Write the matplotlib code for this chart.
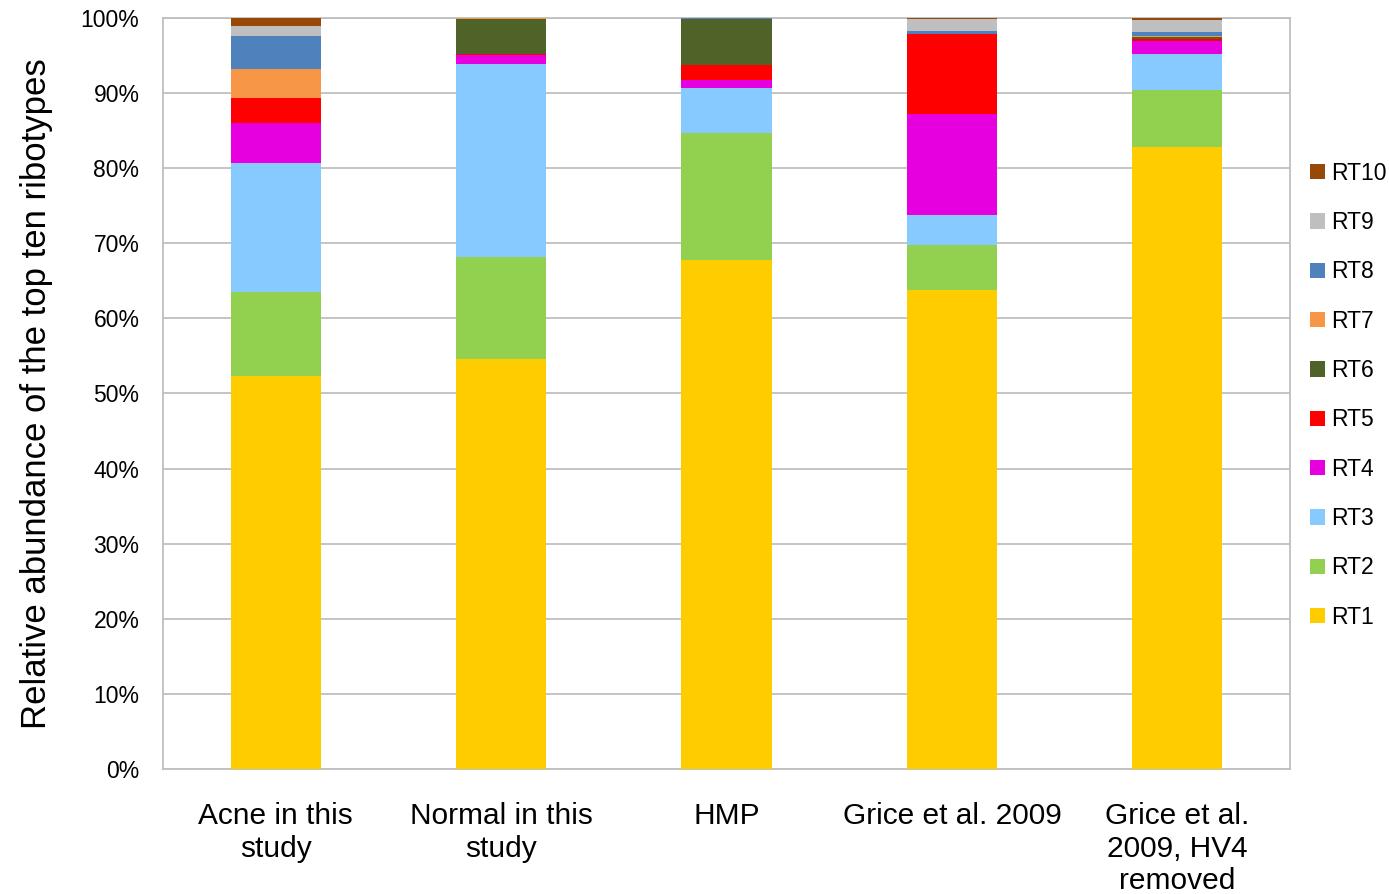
import matplotlib
matplotlib.use("Agg")
import matplotlib.pyplot as plt
from matplotlib.patches import Patch
from matplotlib.ticker import FuncFormatter
import numpy as np

plt.rcParams['font.family'] = ['Liberation Sans', 'DejaVu Sans']

groups = ["Acne in this\nstudy", "Normal in this\nstudy", "HMP",
          "Grice et al. 2009", "Grice et al.\n2009, HV4\nremoved"]
ribotypes = ["RT1", "RT2", "RT3", "RT4", "RT5", "RT6", "RT7", "RT8", "RT9", "RT10"]

# percent of the top ten ribotypes, one list per ribotype (order follows groups)
rt1 = [52.3, 54.6, 67.8, 63.8, 82.8]
rt2 = [11.2, 13.6, 16.9, 6.0, 7.6]
rt3 = [17.2, 25.7, 6.0, 4.0, 4.8]
rt4 = [5.3, 1.2, 1.0, 13.4, 1.7]
rt5 = [3.4, 0.1, 2.0, 10.6, 0.3]
rt6 = [0.0, 4.6, 6.1, 0.0, 0.2]
rt7 = [3.8, 0.2, 0.0, 0.0, 0.2]
rt8 = [4.4, 0.0, 0.2, 0.5, 0.5]
rt9 = [1.3, 0.0, 0.0, 1.5, 1.6]
rt10 = [1.1, 0.0, 0.0, 0.2, 0.3]
series = [rt1, rt2, rt3, rt4, rt5, rt6, rt7, rt8, rt9, rt10]

colors = ["#FFCC00", "#92D050", "#87CAFF", "#E600E0", "#FF0000",
          "#4F6228", "#F79646", "#4F81BD", "#BFBFBF", "#984807"]

fig = plt.figure(figsize=(13.89, 8.94), dpi=100)
ax = fig.add_axes([0.1174, 0.1398, 0.8113, 0.8401])

x = np.arange(len(groups))
bottom = np.zeros(len(groups))
for vals, col in zip(series, colors):
    ax.bar(x, vals, width=0.4, bottom=bottom, color=col, edgecolor='none', zorder=3)
    bottom += np.array(vals)

ax.set_xlim(-0.5, len(groups) - 0.5)
ax.set_ylim(0, 100)
ax.set_yticks(np.arange(0, 101, 10))
ax.yaxis.set_major_formatter(FuncFormatter(lambda v, p: "%d%%" % v))
ax.grid(axis='y', color='#BFBFBF', linewidth=1.3, zorder=0)
for s in ax.spines.values():
    s.set_color('#BFBFBF')
    s.set_linewidth(1.3)
ax.tick_params(axis='y', length=0, labelsize=16.5, pad=17)
ax.tick_params(axis='x', length=0, labelsize=21.5, pad=24)
ax.set_xticks(x)
ax.set_xticklabels(groups, linespacing=1.2, va='top')
ax.set_ylabel("Relative abundance of the top ten ribotypes", fontsize=25, labelpad=20)

handles = [Patch(facecolor=c, edgecolor='none') for c in colors][::-1]
labels = ribotypes[::-1]
fig.legend(handles, labels, loc='center left', bbox_to_anchor=(0.943, 0.558),
           frameon=False, fontsize=16.5, handlelength=0.65, handleheight=0.65,
           handletextpad=0.3, labelspacing=1.15, borderpad=0, borderaxespad=0)

fig.savefig("out.png", dpi=100)
